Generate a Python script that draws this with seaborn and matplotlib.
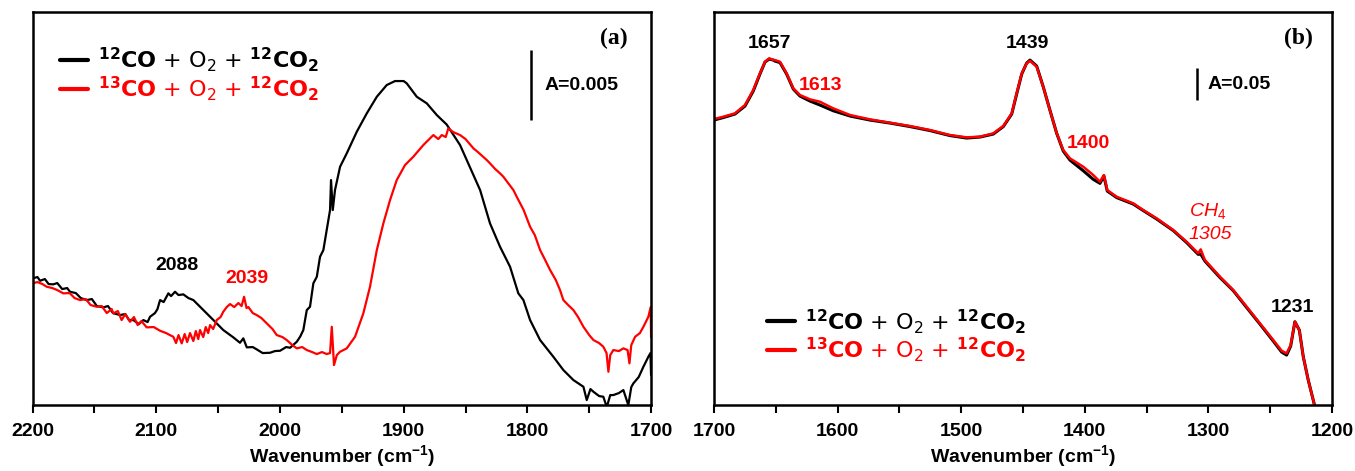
import numpy as np
import pandas as pd
import matplotlib
matplotlib.use("Agg")
import matplotlib.pyplot as plt
import seaborn as sns

sns.set_theme(style="white")
plt.rcParams['font.family'] = ['Liberation Sans', 'DejaVu Sans']
plt.rcParams['mathtext.fontset'] = 'custom'
plt.rcParams['mathtext.rm'] = 'Liberation Sans'
plt.rcParams['mathtext.bf'] = 'Liberation Sans:bold'
plt.rcParams['mathtext.it'] = 'Liberation Sans:italic'
plt.rcParams['text.color'] = 'black'
plt.rcParams['axes.labelcolor'] = 'black'
plt.rcParams['xtick.color'] = 'black'

RED = '#ff0000'

# ---- panel (a): CO region, absorbance in arbitrary units (A=0.005 ~ 70 units)
wn_a_black = [2200, 2196, 2193.9, 2190, 2187, 2183.2, 2180, 2176, 2172, 2169.7, 2165, 2161, 2156.2,
              2152, 2148, 2142.8, 2139, 2135, 2129.3, 2125, 2122, 2118.5, 2114, 2110.4, 2107, 2105,
              2101, 2099, 2096.9, 2094, 2090.2, 2088, 2084.8, 2082, 2078.1, 2074, 2070, 2061.9,
              2053.8, 2045.8, 2037.7, 2032.3, 2029.6, 2026.8, 2022, 2018.8, 2014, 2008, 2004, 1999.9,
              1995, 1991.8, 1986.4, 1983.7, 1981.1, 1978.3, 1975.7, 1973, 1970.2, 1967.6, 1964.9,
              1962.2, 1959.5, 1958.7, 1957.3, 1955.5, 1951.4, 1946, 1937.9, 1929.8, 1921.7, 1913.7,
              1907, 1900, 1897.5, 1889.4, 1881.3, 1873.2, 1865.2, 1854.4, 1843.6, 1838.2, 1830.2,
              1822.1, 1816.7, 1814, 1807.3, 1803.2, 1797.8, 1789.7, 1779, 1770.9, 1762.8, 1754.7,
              1752, 1749, 1746.6, 1742, 1738.6, 1735.8, 1733, 1730.5, 1726, 1722.4, 1718.4, 1716,
              1714.3, 1710, 1706.2, 1702.2, 1700.5, 1700]
ab_a_black = [126.7, 128, 124.3, 126, 121, 120.7, 122, 116, 117, 113.3, 112, 107, 105,
              106, 99, 97.7, 99, 92, 90, 91, 85, 85, 81, 85, 83, 88.3,
              92, 96, 105, 103, 111.7, 109, 113.3, 110, 110.7, 107, 105, 95,
              85, 75, 67.7, 62.3, 66.7, 57.7, 58, 55.7, 52, 52.3, 54, 54.3,
              58, 57.3, 63.3, 68.3, 75, 95, 98.3, 121.7, 128.3, 148.3, 155,
              175, 195, 225, 195, 215, 238.3, 251.7, 273.3, 291.7, 308.3, 320,
              324, 324, 321.7, 308.3, 301.7, 290, 280.5, 260, 230, 215, 181.7,
              158.3, 145, 138.3, 111.7, 105, 85, 65, 48.3, 35, 25, 18.3,
              5, 16, 13.3, 9, 8.3, -2, 10, 10, 12, 15, 0, 18,
              21.7, 28, 38.3, 48.3, 52, 30]

wn_a_red = [2200, 2196, 2192, 2188.5, 2184, 2180, 2175.1, 2170, 2166, 2161.6, 2157, 2153, 2148.1,
            2144, 2140, 2136, 2134.7, 2131, 2128, 2125, 2121.2, 2118, 2115, 2112, 2107.7, 2102,
            2096.9, 2092, 2089, 2086.2, 2084, 2082, 2079.4, 2077, 2075, 2072.7, 2070, 2068, 2066,
            2064.6, 2062, 2060, 2058, 2056.5, 2054, 2051.1, 2048, 2045.8, 2043, 2040.3, 2037,
            2033.6, 2031, 2029, 2027, 2025.5, 2022, 2018.8, 2015, 2010.7, 2006, 2002.6, 1998,
            1994.5, 1990, 1986.4, 1982, 1978.3, 1974, 1970.2, 1966, 1962.2, 1959.5, 1958.1,
            1956.3, 1954, 1951.4, 1946, 1939.3, 1932.6, 1927.2, 1921.7, 1916.4, 1911, 1905.6,
            1898.9, 1892.2, 1884.1, 1876, 1872, 1869.2, 1866, 1863.9, 1860, 1854.4, 1850, 1843.6,
            1840, 1832.8, 1830.2, 1826, 1822.1, 1819.4, 1815, 1811.3, 1808.6, 1803, 1797.8, 1794,
            1789.7, 1786, 1781.6, 1777, 1773.6, 1770.9, 1767, 1762.8, 1759, 1754.7, 1750, 1746.6,
            1742, 1738.6, 1736, 1734.5, 1733, 1730.5, 1726, 1722.4, 1719, 1717.5, 1716, 1712.9,
            1709, 1706.2, 1702.2, 1700.3, 1700]
ab_a_red = [121.7, 123, 121, 118.3, 117, 115, 111.7, 112, 107, 105, 106, 100, 98.3,
            99, 92, 96, 91.7, 94, 85, 91, 83.3, 88, 80, 84, 77.7, 78,
            74.3, 72, 70, 68.3, 62, 70, 61.7, 71, 63, 72, 64, 74, 66,
            75, 68, 78, 72, 80, 76, 85, 88, 93.3, 98, 101, 98,
            102, 99, 108.3, 97, 98, 92, 90, 87, 81.7, 76, 70, 68,
            65, 60, 56.7, 58, 55, 53, 51, 53, 51, 52, 78.3,
            40, 50, 53.3, 56.7, 68.3, 91.7, 118.3, 155, 181.7, 205, 225,
            240, 248.3, 260, 270, 266, 270, 268, 276.7, 273, 270, 266, 256.7,
            253, 245, 241.7, 236, 231.7, 228.3, 221, 215, 208.3, 195, 178.3, 170,
            155, 146, 135, 125, 115, 105, 100, 95, 88, 78.3, 70, 65,
            62, 58.3, 52, 33.3, 50, 55, 54, 56.7, 55, 41.7, 60, 68.3,
            72, 78.3, 88.3, 98, 68]

# ---- panel (b): carbonate region (A=0.05 ~ 32 units)
wn_b = [1700, 1692.5, 1683, 1674.9, 1668.2, 1662.8, 1658.7, 1655.3, 1652, 1650.7, 1646.6, 1641.2,
        1635.8, 1630.4, 1622.3, 1614.2, 1603.5, 1589.8, 1573.8, 1557.6, 1541.4, 1525.2, 1509.1,
        1495.6, 1484.8, 1474, 1465.9, 1459.1, 1455.1, 1451, 1447, 1444.3, 1438.9, 1433.6, 1428.2,
        1422.7, 1417.4, 1412, 1401.2, 1393.1, 1387.7, 1384.5, 1381.8, 1374.2, 1360.8, 1352.7,
        1341.8, 1328.4, 1317.6, 1308.2, 1306.2, 1302.8, 1290.6, 1279.9, 1269, 1258.3, 1247.5,
        1240.7, 1236.7, 1233.4, 1230, 1226.4, 1223.2, 1219.2, 1213.8]
ab_b_red = [286, 288.3, 291.7, 300, 315, 331.7, 343.3, 346.7, 345, 345, 343.3, 331.7,
            316.7, 310, 305.7, 303.3, 296.7, 290, 285.7, 282.3, 279, 275, 270,
            267.7, 268.3, 271.7, 279, 291.7, 311.7, 331.7, 341.7, 344.3, 338.3, 318.3, 295,
            271.7, 255, 246.7, 238.3, 230, 223.3, 230, 215, 208.3, 201.7, 195,
            186.7, 175, 163.3, 151.7, 155.7, 145, 128.3, 115, 98.3, 81.7, 65,
            54.3, 51.7, 60, 83.3, 75, 48.3, 25, -1.7]
ab_b_black = [285, 287.5, 291, 299, 314, 331, 343, 346, 345, 344, 342.5, 331,
              316, 309, 304, 300, 294.3, 289, 285, 282, 278.5, 274.5, 269.5,
              267, 268, 271, 278.5, 291, 311, 331, 342, 345, 339, 318.3, 295,
              271.7, 254, 245, 234.3, 225.7, 221.7, 229, 214, 207.5, 201, 194.5,
              186, 174.5, 162.5, 150.7, 151, 144, 127.5, 114.5, 97.5, 81, 64,
              53, 50, 59, 83.3, 75, 48.3, 25, -1.7]

label_12 = r"$^{\mathbf{12}}\mathbf{CO}$ + O$_{2}$ + $^{\mathbf{12}}\mathbf{CO_{2}}$"
label_13 = r"$^{\mathbf{13}}\mathbf{CO}$ + O$_{2}$ + $^{\mathbf{12}}\mathbf{CO_{2}}$"

fig = plt.figure(figsize=(13.55, 4.71), dpi=100)
ax_a = fig.add_axes([0.024, 0.140, 0.4565, 0.8344])
ax_b = fig.add_axes([0.5269, 0.140, 0.4561, 0.8344])

df_a_black = pd.DataFrame({'wn': wn_a_black, 'A': ab_a_black})
df_a_red = pd.DataFrame({'wn': wn_a_red, 'A': ab_a_red})
df_b_black = pd.DataFrame({'wn': wn_b, 'A': ab_b_black})
df_b_red = pd.DataFrame({'wn': wn_b, 'A': ab_b_red})

sns.lineplot(data=df_a_black, x='wn', y='A', ax=ax_a, color='black', lw=1.6,
             sort=False, estimator=None, label=label_12)
sns.lineplot(data=df_a_red, x='wn', y='A', ax=ax_a, color=RED, lw=1.6,
             sort=False, estimator=None, label=label_13)
sns.lineplot(data=df_b_black, x='wn', y='A', ax=ax_b, color='black', lw=2.2,
             sort=False, estimator=None, label=label_12)
sns.lineplot(data=df_b_red, x='wn', y='A', ax=ax_b, color=RED, lw=1.8,
             sort=False, estimator=None, label=label_13)

for ax, lo, hi in [(ax_a, 2200, 1700), (ax_b, 1700, 1200)]:
    ax.set_xlim(lo, hi)
    ax.set_ylim(0, 393)
    ax.set_xticks(np.arange(lo, hi - 1, -100))
    ax.set_xticks(np.arange(lo - 50, hi, -100), minor=True)
    ax.set_yticks([])
    ax.tick_params(axis='x', which='both', direction='out', length=6, width=1.5,
                   bottom=True, pad=7, labelsize=14, colors='black')
    for lab in ax.get_xticklabels():
        lab.set_fontweight('bold')
    for sp in ax.spines.values():
        sp.set_linewidth(1.8)
        sp.set_color('black')
    ax.set_xlabel(r"Wavenumber (cm$^{\mathbf{-1}}$)", fontsize=14, fontweight='bold', labelpad=2)
    ax.set_ylabel('')

# legends (wider font to match the reference lettering)
leg_kw = dict(loc='upper left', frameon=False, fontsize=16, handlelength=1.25,
              handletextpad=0.45, labelspacing=0.0, borderaxespad=0, borderpad=0)
leg_a = ax_a.legend(bbox_to_anchor=(0.044, 0.915), **leg_kw)
leg_b = ax_b.legend(bbox_to_anchor=(0.086, 0.25), **leg_kw)
for leg in (leg_a, leg_b):
    for line in leg.get_lines():
        line.set_linewidth(3)
    for t in leg.get_texts():
        t.set_fontfamily('DejaVu Sans')
        t.set_math_fontfamily('dejavusans')
    leg.get_texts()[1].set_color(RED)

# panel letters
ax_a.text(0.94, 0.934, '(a)', transform=ax_a.transAxes, ha='center', va='center',
          fontsize=17, fontweight='bold', family='Liberation Serif')
ax_b.text(0.945, 0.934, '(b)', transform=ax_b.transAxes, ha='center', va='center',
          fontsize=17, fontweight='bold', family='Liberation Serif')

# scale bars
bar_a = (1797, 285, 355)
bar_b = (1309, 305, 337)
ax_a.vlines(bar_a[0], bar_a[1], bar_a[2], color='black', lw=1.8)
ax_a.text(1786, (bar_a[1] + bar_a[2]) / 2, 'A=0.005', ha='left', va='center',
          fontsize=14, fontweight='bold')
ax_b.vlines(bar_b[0], bar_b[1], bar_b[2], color='black', lw=1.8)
ax_b.text(1301, (bar_b[1] + bar_b[2]) / 2, 'A=0.05', ha='left', va='center',
          fontsize=14, fontweight='bold')

# peak labels
ax_a.text(2083.4, 140, '2088', ha='center', va='center', fontsize=14, fontweight='bold')
ax_a.text(2026.8, 127, '2039', ha='center', va='center', fontsize=14, fontweight='bold', color=RED)
ax_b.text(1654.7, 362, '1657', ha='center', va='center', fontsize=14, fontweight='bold')
ax_b.text(1446, 362, '1439', ha='center', va='center', fontsize=14, fontweight='bold')
ax_b.text(1614.2, 320, '1613', ha='center', va='center', fontsize=14, fontweight='bold', color=RED)
ax_b.text(1397.4, 262, '1400', ha='center', va='center', fontsize=14, fontweight='bold', color=RED)
ax_b.text(1300.3, 194, r'$CH_4$', ha='center', va='center', fontsize=14, color=RED)
ax_b.text(1298.7, 171, '1305', ha='center', va='center', fontsize=14, style='italic', color=RED)
ax_b.text(1231.6, 98, '1231', ha='center', va='center', fontsize=14, fontweight='bold')

fig.savefig('out.png', dpi=100)
